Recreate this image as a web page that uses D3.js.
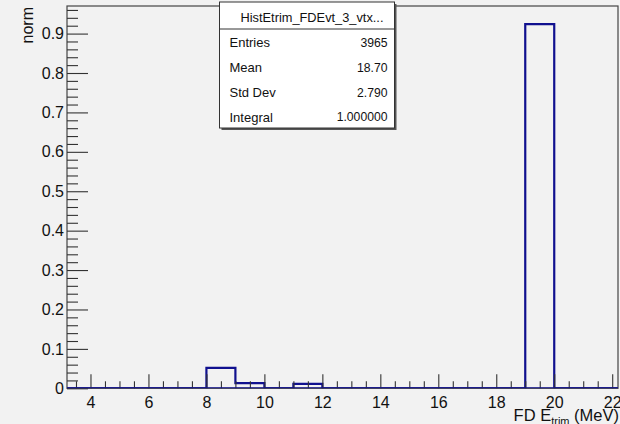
<!DOCTYPE html>
<html>
<head>
<meta charset="utf-8">
<script src="https://cdn.jsdelivr.net/npm/d3@7"></script>
<style>
  html, body { margin: 0; padding: 0; background: #f2f2f2; }
  svg { display: block; font-family: "Liberation Sans", Arial, Helvetica, sans-serif; }
</style>
</head>
<body>
<svg id="chart" width="620" height="424"></svg>
<script>
// ---- data ----
const binLowEdges = [3, 4, 5, 6, 7, 8, 9, 10, 11, 12, 13, 14, 15, 16, 17, 18, 19, 20, 21];
const binContents = [0, 0, 0, 0, 0, 0.052, 0.013, 0, 0.011, 0, 0, 0, 0, 0, 0, 0, 0.924, 0, 0];
const binWidth = 1;
const xDomain = [3.19, 22.2];
const yDomain = [0, 0.970];
const xMajorTicks = [4, 6, 8, 10, 12, 14, 16, 18, 20, 22];
const yMajorTicks = [0, 0.1, 0.2, 0.3, 0.4, 0.5, 0.6, 0.7, 0.8, 0.9];
const statTitle = "HistEtrim_FDEvt_3_vtx...";
const statLabels = ["Entries", "Mean", "Std Dev", "Integral"];
const statValues = ["3965", "18.70", "2.790", "1.000000"];
const yTitle = "norm";

// ---- layout ----
const W = 620, H = 424;
const frame = { left: 67, right: 618, top: 6, bottom: 388.3 };
const svg = d3.select("#chart");

svg.append("rect").attr("x", 0).attr("y", 0).attr("width", W).attr("height", H).attr("fill", "#f2f2f2");

const x = d3.scaleLinear().domain(xDomain).range([frame.left, frame.right]);
const y = d3.scaleLinear().domain(yDomain).range([frame.bottom, frame.top]);

// minor tick values
const xMinor = d3.range(3.5, 22.01, 0.5).filter(v => v >= xDomain[0] && v <= xDomain[1] && Math.abs(v / 2 - Math.round(v / 2)) > 1e-6);
const yMinor = d3.range(0, 0.9701, 0.02).filter(v => Math.abs(v * 10 - Math.round(v * 10)) > 1e-6);

// clip
svg.append("clipPath").attr("id", "clip").append("rect")
  .attr("x", frame.left).attr("y", frame.top)
  .attr("width", frame.right - frame.left).attr("height", frame.bottom - frame.top);

// histogram outline (step)
const pts = [];
pts.push([xDomain[0], 0]);
binLowEdges.forEach((lo, i) => {
  pts.push([lo, binContents[i]]);
  pts.push([lo + binWidth, binContents[i]]);
});
pts.push([xDomain[1], 0]);
const line = d3.line().x(d => x(d[0])).y(d => y(d[1]));
svg.append("path")
  .attr("clip-path", "url(#clip)")
  .attr("d", line(pts))
  .attr("fill", "none")
  .attr("stroke", "#10108f")
  .attr("stroke-width", 2.2)
  .attr("stroke-linejoin", "miter");

// frame
svg.append("rect")
  .attr("x", frame.left).attr("y", frame.top)
  .attr("width", frame.right - frame.left).attr("height", frame.bottom - frame.top)
  .attr("fill", "none").attr("stroke", "#444").attr("stroke-width", 1.2);

// x axis
const gx = svg.append("g").attr("transform", `translate(0,${frame.bottom})`);
gx.call(d3.axisBottom(x).tickValues(xMajorTicks).tickSizeInner(-14).tickSizeOuter(0).tickPadding(8).tickFormat(d3.format("d")));
const gxm = svg.append("g").attr("transform", `translate(0,${frame.bottom})`);
gxm.call(d3.axisBottom(x).tickValues(xMinor).tickSizeInner(-7).tickSizeOuter(0).tickFormat(""));

// y axis
const gy = svg.append("g").attr("transform", `translate(${frame.left},0)`);
gy.call(d3.axisLeft(y).tickValues(yMajorTicks).tickSizeInner(-21).tickSizeOuter(0).tickPadding(3)
  .tickFormat(d => d === 0 ? "0" : d3.format(".1f")(d)));
const gym = svg.append("g").attr("transform", `translate(${frame.left},0)`);
gym.call(d3.axisLeft(y).tickValues(yMinor).tickSizeInner(-11).tickSizeOuter(0).tickFormat(""));

[gx, gxm, gy, gym].forEach(g => {
  g.select(".domain").remove();
  g.selectAll("line").attr("stroke", "#333").attr("stroke-width", 1.1);
  g.selectAll("text").attr("fill", "#111").attr("font-size", 16)
    .attr("font-family", "'Liberation Sans', Arial, sans-serif");
});

// redraw x baseline of histogram on top of ticks
svg.append("path")
  .attr("clip-path", "url(#clip)")
  .attr("d", line([[xDomain[0], 0], [xDomain[1], 0]]))
  .attr("stroke", "#10108f").attr("stroke-width", 2).attr("fill", "none");

// axis titles
svg.append("text")
  .attr("transform", `translate(33,7) rotate(-90)`)
  .attr("text-anchor", "end")
  .attr("font-size", 16).attr("fill", "#111")
  .text(yTitle);

const xt = svg.append("text")
  .attr("x", 619).attr("y", 421)
  .attr("text-anchor", "end")
  .attr("font-size", 16.5).attr("fill", "#111");
xt.append("tspan").text("FD E");
xt.append("tspan").attr("font-size", 11).attr("dy", 4).text("trim");
xt.append("tspan").attr("dy", -4).text(" (MeV)");

// stats box
const box = { x: 219.5, y: 2, w: 175, h: 126 };
const headerH = 27;
svg.append("rect").attr("x", box.x + 2).attr("y", box.y + 2).attr("width", box.w).attr("height", box.h).attr("fill", "#555");
svg.append("rect").attr("x", box.x).attr("y", box.y).attr("width", box.w).attr("height", box.h)
  .attr("fill", "#fff").attr("stroke", "#333").attr("stroke-width", 1);
svg.append("line").attr("x1", box.x).attr("x2", box.x + box.w)
  .attr("y1", box.y + headerH).attr("y2", box.y + headerH).attr("stroke", "#333").attr("stroke-width", 1);
svg.append("text").attr("x", box.x + box.w / 2 + 5).attr("y", box.y + 16)
  .attr("dy", "0.35em").attr("text-anchor", "middle").attr("font-size", 12.8).attr("fill", "#111")
  .text(statTitle);
const rowStep = (box.h - headerH) / statLabels.length;
statLabels.forEach((lab, i) => {
  const cy = box.y + headerH + rowStep * (i + 0.5) + 1.5;
  svg.append("text").attr("x", box.x + 10).attr("y", cy).attr("dy", "0.35em")
    .attr("font-size", 13).attr("fill", "#111").text(lab);
  svg.append("text").attr("x", box.x + box.w - 7).attr("y", cy).attr("dy", "0.35em")
    .attr("text-anchor", "end").attr("font-size", 12.2).attr("fill", "#111").text(statValues[i]);
});
</script>
</body>
</html>
